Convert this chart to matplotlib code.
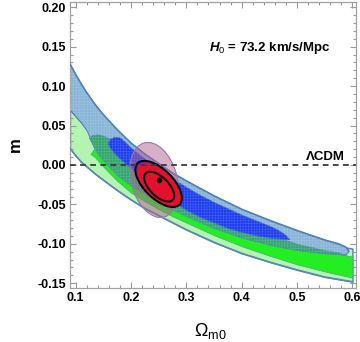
import numpy as np
import matplotlib
matplotlib.use('Agg')
import matplotlib.pyplot as plt
from matplotlib.patches import Circle
from matplotlib.transforms import Affine2D
from matplotlib.ticker import MultipleLocator, FormatStrFormatter

plt.rcParams['font.family'] = ['Liberation Sans', 'DejaVu Sans']
plt.rcParams['mathtext.fontset'] = 'custom'
plt.rcParams['mathtext.rm'] = 'Liberation Sans'
plt.rcParams['mathtext.it'] = 'Liberation Sans:italic:bold'
plt.rcParams['mathtext.bf'] = 'Liberation Sans:bold'
plt.rcParams['hatch.linewidth'] = 0.4

# outer (2 sigma) green band
x_g2 = [0.09, 0.10, 0.11, 0.12, 0.135, 0.15, 0.175, 0.20, 0.225, 0.25, 0.275, 0.30,
        0.35, 0.40, 0.45, 0.50, 0.55, 0.60]
g2_upper = [0.070, 0.062, 0.054, 0.046, 0.034, 0.024, 0.010, -0.003, -0.014, -0.025, -0.034, -0.043,
            -0.058, -0.072, -0.083, -0.092, -0.100, -0.106]
g2_lower = [0.021, 0.012, 0.004, -0.002, -0.011, -0.019, -0.032, -0.044, -0.055, -0.064, -0.073, -0.082,
            -0.098, -0.112, -0.123, -0.133, -0.142, -0.148]

# inner (1 sigma) green band
x_g1 = [0.127, 0.135, 0.15, 0.175, 0.20, 0.225, 0.25, 0.275, 0.30, 0.35, 0.40, 0.45, 0.50, 0.55, 0.60]
g1_upper = [0.014, 0.022, 0.009, -0.010, -0.023, -0.034, -0.044, -0.053, -0.062, -0.077, -0.089, -0.098,
            -0.105, -0.110, -0.116]
g1_lower = [0.014, 0.010, -0.002, -0.020, -0.035, -0.046, -0.056, -0.065, -0.073, -0.089, -0.103, -0.115,
            -0.126, -0.135, -0.143]

# outer (2 sigma) blue band
x_b2 = [0.09, 0.10, 0.11, 0.12, 0.135, 0.15, 0.175, 0.20, 0.225, 0.25, 0.275, 0.30,
        0.35, 0.40, 0.45, 0.50, 0.55, 0.575, 0.588, 0.593]
b2_upper = [0.128, 0.115, 0.103, 0.092, 0.077, 0.064, 0.045, 0.028, 0.014, 0.002, -0.010, -0.020,
            -0.039, -0.056, -0.070, -0.083, -0.095, -0.100, -0.104, -0.109]
b2_lower = [0.070, 0.062, 0.054, 0.044, 0.020, 0.006, -0.013, -0.026, -0.037, -0.047, -0.056, -0.065,
            -0.080, -0.092, -0.101, -0.108, -0.112, -0.113, -0.113, -0.109]

# overlap region (teal)
x_t = [0.124, 0.13, 0.14, 0.15, 0.175, 0.20, 0.25, 0.30, 0.35, 0.40, 0.45, 0.50, 0.55, 0.575, 0.588]
t_upper = [0.035, 0.038, 0.039, 0.037, 0.030, 0.018, -0.008, -0.032, -0.052, -0.072, -0.088, -0.100,
           -0.108, -0.111, -0.114]
t_lower = [0.035, 0.027, 0.014, 0.006, -0.013, -0.026, -0.047, -0.065, -0.080, -0.092, -0.101, -0.108,
           -0.112, -0.113, -0.114]

# inner (1 sigma) blue region
x_b1 = [0.158, 0.162, 0.17, 0.18, 0.19, 0.20, 0.225, 0.25, 0.275, 0.30, 0.325, 0.35, 0.375, 0.40,
        0.425, 0.45, 0.465, 0.478, 0.486]
b1_upper = [0.028, 0.033, 0.036, 0.035, 0.029, 0.022, 0.008, -0.005, -0.017, -0.028, -0.038, -0.047,
            -0.055, -0.063, -0.070, -0.077, -0.082, -0.088, -0.094]
b1_lower = [0.028, 0.022, 0.015, 0.008, 0.002, -0.004, -0.019, -0.033, -0.046, -0.057, -0.066, -0.073,
            -0.080, -0.085, -0.089, -0.092, -0.093, -0.094, -0.094]

# ellipses: centre, half-axis vector 1, half-axis vector 2 (data units)
cmb_c, cmb_v1, cmb_v2 = (0.242, -0.019), (0.018, -0.047), (0.040, 0.0076)
out_c, out_v1, out_v2 = (0.250, -0.024), (0.0378, -0.0263), (0.0185, 0.0129)
red_c, red_v1, red_v2 = (0.251, -0.025), (0.0355, -0.0247), (0.0172, 0.0120)
in_c, in_v1, in_v2 = (0.251, -0.0275), (0.0244, -0.0170), (0.0120, 0.0084)
best_fit = (0.251, -0.019)

xticks = [0.1, 0.2, 0.3, 0.4, 0.5, 0.6]
yticks = [-0.15, -0.10, -0.05, 0.00, 0.05, 0.10, 0.15, 0.20]

fig = plt.figure(figsize=(3.6, 3.42), dpi=100)
ax = fig.add_axes([70 / 360, 54 / 342, 285.5 / 360, 286 / 342])

edge = '#4f7fbf'
ax.fill_between(x_g2, g2_upper, g2_lower, facecolor='#b4f4b0', edgecolor=edge, lw=1.0, zorder=1)
ax.fill_between(x_b2, b2_upper, b2_lower, facecolor='#88b4d6', edgecolor=edge, lw=0.8, zorder=2)
ax.fill_between(x_g1, g1_upper, g1_lower, facecolor='#22ee22', edgecolor='#5a9a9a', lw=0.5, zorder=3)
ax.fill_between(x_t, t_upper, t_lower, facecolor='#33a470', edgecolor='#5a8ab0', lw=0.6, zorder=4)
ax.fill_between(x_b1, b1_upper, b1_lower, facecolor='#1c3cf0', edgecolor='#3a60d8', lw=0.5, zorder=5)
ax.fill_between(x_b2, b2_upper, b2_lower, facecolor='none', edgecolor=(1, 1, 1, 0.18),
                hatch='++++++', lw=0, zorder=6)
ax.plot(x_b2, b2_upper, color=edge, lw=1.1, zorder=6)
ax.plot(x_g2, g2_lower, color='#5a88b0', lw=1.1, zorder=6)


def ellipse(c, v1, v2, **kw):
    m = np.array([[v1[0], v2[0], c[0]], [v1[1], v2[1], c[1]], [0, 0, 1]])
    p = Circle((0, 0), 1, transform=Affine2D(m) + ax.transData, **kw)
    ax.add_patch(p)
    return p


ellipse(cmb_c, cmb_v1, cmb_v2, facecolor=(0.69, 0.38, 0.56, 0.5), edgecolor='#9878a8', lw=0.8, zorder=7)
ellipse(out_c, out_v1, out_v2, facecolor='#7028a8', edgecolor='none', zorder=8)
ellipse(red_c, red_v1, red_v2, facecolor='#e4102c', edgecolor='none', zorder=9)
ellipse(out_c, out_v1, out_v2, facecolor='none', edgecolor='black', lw=1.4, zorder=10)
ellipse(in_c, in_v1, in_v2, facecolor='none', edgecolor='black', lw=1.4, zorder=10)
ax.plot(*best_fit, 'o', color='black', markersize=3, zorder=11)

ax.axhline(0, color='#3a3a3a', lw=1.3, ls=(0, (3.2, 2.4)), zorder=12)

ax.text(0.451, 0.148, r'$H_0$ = 73.2 km/s/Mpc', fontsize=9.5, fontweight='bold',
        ha='center', va='center')
ax.text(0.551, 0.010, 'ΛCDM', fontsize=9.5, fontweight='bold', ha='center', va='center')

ax.set_xlim(0.09, 0.6055)
ax.set_ylim(-0.156, 0.2067)
ax.set_xticks(xticks)
ax.set_yticks(yticks)
ax.xaxis.set_major_formatter(FormatStrFormatter('%.1f'))
ax.yaxis.set_major_formatter(FormatStrFormatter('%.2f'))
ax.xaxis.set_minor_locator(MultipleLocator(0.02))
ax.yaxis.set_minor_locator(MultipleLocator(0.01))
ax.tick_params(which='both', direction='in', top=True, right=True, color='#999999',
               labelsize=9, width=0.8, pad=3)
ax.tick_params(which='major', length=4)
ax.tick_params(which='minor', length=2)
for lab in ax.get_xticklabels() + ax.get_yticklabels():
    lab.set_fontweight('bold')
for s in ax.spines.values():
    s.set_color('#a0a0a0')
    s.set_linewidth(0.9)

ax.set_xlabel(r'$\Omega_{\rm m0}$', fontsize=13)
ax.set_ylabel('m', fontsize=12, fontweight='bold')
ax.xaxis.set_label_coords(0.49, -0.115)
ax.yaxis.set_label_coords(-0.165, 0.5)

fig.savefig('out.png', dpi=100)
